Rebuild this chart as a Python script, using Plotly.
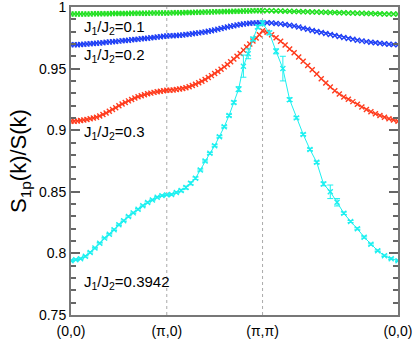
import numpy as np
import plotly.graph_objects as go

# k-path Gamma -> X -> M -> Gamma, distance in units of pi
corner_pos = [0, 1, 2, 2 + np.sqrt(2)]
corner_labels = ["(0,0)", "(\u03c0,0)", "(\u03c0,\u03c0)", "(0,0)"]

def path_x(n):
    # n points per segment of the L x L lattice path
    a = np.arange(0, n + 1) / n
    b = 1 + np.arange(1, n + 1) / n
    c = 2 + np.sqrt(2) * np.arange(1, n + 1) / n
    return np.concatenate([a, b, c])

# J1/J2 = 0.1
green_y = [
    0.9943, 0.9943, 0.9943, 0.9943, 0.9944, 0.9944, 0.9944, 0.9945, 0.9945, 0.9945,
    0.9946, 0.9946, 0.9946, 0.9947, 0.9947, 0.9947, 0.9948, 0.9948, 0.9948, 0.9949,
    0.9949, 0.9949, 0.9950, 0.9950, 0.9950, 0.9951, 0.9951, 0.9951, 0.9952, 0.9952, 0.9952,
    0.9952, 0.9953, 0.9953, 0.9954, 0.9954, 0.9955, 0.9955, 0.9956, 0.9957, 0.9957,
    0.9958, 0.9959, 0.9959, 0.9960, 0.9961, 0.9962, 0.9962, 0.9963, 0.9964, 0.9964,
    0.9965, 0.9966, 0.9966, 0.9967, 0.9968, 0.9968, 0.9969, 0.9969, 0.9970, 0.9970,
    0.9970, 0.9969, 0.9968, 0.9967, 0.9966, 0.9965, 0.9964, 0.9963, 0.9962, 0.9961,
    0.9960, 0.9959, 0.9958, 0.9957, 0.9956, 0.9955, 0.9954, 0.9953, 0.9952, 0.9951,
    0.9950, 0.9949, 0.9948, 0.9947, 0.9946, 0.9945, 0.9944, 0.9943, 0.9943, 0.9943,
]

# J1/J2 = 0.2
blue_y = [
    0.9693, 0.9693, 0.9694, 0.9695, 0.9697, 0.9699, 0.9701, 0.9703, 0.9705, 0.9708,
    0.9710, 0.9713, 0.9715, 0.9718, 0.9720, 0.9723, 0.9726, 0.9728, 0.9731, 0.9734,
    0.9736, 0.9739, 0.9742, 0.9744, 0.9747, 0.9750, 0.9753, 0.9756, 0.9759, 0.9762, 0.9765,
    0.9766, 0.9767, 0.9768, 0.9770, 0.9773, 0.9776, 0.9779, 0.9782, 0.9786, 0.9790,
    0.9794, 0.9798, 0.9803, 0.9808, 0.9813, 0.9819, 0.9825, 0.9831, 0.9837, 0.9843,
    0.9848, 0.9853, 0.9858, 0.9862, 0.9865, 0.9868, 0.9870, 0.9871, 0.9872, 0.9873,
    0.9872, 0.9870, 0.9867, 0.9863, 0.9858, 0.9852, 0.9845, 0.9837, 0.9828, 0.9819,
    0.9810, 0.9801, 0.9793, 0.9785, 0.9777, 0.9769, 0.9761, 0.9753, 0.9745, 0.9738,
    0.9731, 0.9725, 0.9719, 0.9714, 0.9709, 0.9705, 0.9701, 0.9698, 0.9695, 0.9693,
]

# J1/J2 = 0.3
red_y = [
    0.9072, 0.9073, 0.9075, 0.9078, 0.9082, 0.9087, 0.9093, 0.9099, 0.9106, 0.9115,
    0.9127, 0.9140, 0.9154, 0.9168, 0.9183, 0.9198, 0.9212, 0.9225, 0.9238, 0.9250,
    0.9261, 0.9271, 0.9280, 0.9288, 0.9295, 0.9301, 0.9307, 0.9312, 0.9316, 0.9320, 0.9324,
    0.9325, 0.9327, 0.9330, 0.9334, 0.9339, 0.9345, 0.9352, 0.9362, 0.9373, 0.9385,
    0.9398, 0.9412, 0.9427, 0.9443, 0.9460, 0.9477, 0.9495, 0.9514, 0.9534, 0.9555,
    0.9577, 0.9600, 0.9623, 0.9650, 0.9675, 0.9700, 0.9724, 0.9748, 0.9775, 0.9808,
    0.9795, 0.9775, 0.9750, 0.9722, 0.9692, 0.9660, 0.9628, 0.9595, 0.9560, 0.9525,
    0.9490, 0.9456, 0.9418, 0.9383, 0.9350, 0.9320, 0.9293, 0.9270, 0.9251, 0.9232,
    0.9210, 0.9188, 0.9168, 0.9150, 0.9134, 0.9119, 0.9105, 0.9093, 0.9082, 0.9072,
]

# J1/J2 = 0.3942 (with error bars)
cyan_y = [
    0.7941, 0.7949, 0.7957, 0.7976, 0.8008, 0.8043, 0.8083, 0.8124, 0.8156, 0.8192,
    0.8232, 0.8265, 0.8299, 0.8329, 0.8358, 0.8386, 0.8413, 0.8434, 0.8456, 0.8469, 0.8475,
    0.8478, 0.8494, 0.8510, 0.8534, 0.8569, 0.8610, 0.8677, 0.8750, 0.8812, 0.8874,
    0.8947, 0.9028, 0.9119, 0.9225, 0.9333, 0.9520, 0.9620, 0.9740, 0.9838, 0.9868,
    0.9790, 0.9640, 0.9500, 0.9248, 0.9100, 0.8966, 0.8844, 0.8739, 0.8564, 0.8500,
    0.8415, 0.8326, 0.8259, 0.8200, 0.8132, 0.8075, 0.8022, 0.7981, 0.7957, 0.7941,
]
cyan_err = [
    0.0006, 0.0006, 0.0006, 0.0006, 0.0006, 0.0006, 0.0006, 0.0006, 0.0006, 0.0006,
    0.0006, 0.0006, 0.0006, 0.0006, 0.0006, 0.0006, 0.0006, 0.0006, 0.0006, 0.0006, 0.0006,
    0.0006, 0.0006, 0.0010, 0.0012, 0.0012, 0.0010, 0.0008, 0.0008, 0.0008, 0.0008,
    0.0008, 0.0008, 0.0010, 0.0012, 0.0020, 0.0090, 0.0040, 0.0015, 0.0015, 0.0020,
    0.0015, 0.0020, 0.0100, 0.0015, 0.0010, 0.0010, 0.0010, 0.0010, 0.0015, 0.0055,
    0.0030, 0.0010, 0.0008, 0.0008, 0.0008, 0.0008, 0.0006, 0.0006, 0.0006, 0.0006,
]

labels = ["J<sub>1</sub>/J<sub>2</sub>=0.1", "J<sub>1</sub>/J<sub>2</sub>=0.2",
          "J<sub>1</sub>/J<sub>2</sub>=0.3", "J<sub>1</sub>/J<sub>2</sub>=0.3942"]
label_y = [0.9830, 0.9605, 0.8978, 0.7760]

fig = go.Figure()

series = [(green_y, "#22e022", 30), (blue_y, "#1f3ff5", 30), (red_y, "#ff3c1e", 30)]
for ys, col, n in series:
    fig.add_trace(go.Scatter(
        x=path_x(n), y=ys, mode="lines+markers",
        line=dict(color=col, width=1),
        marker=dict(symbol="x-thin", size=5, line=dict(color=col, width=1.4)),
        showlegend=False, hoverinfo="skip"))

fig.add_trace(go.Scatter(
    x=path_x(20), y=cyan_y, mode="lines+markers",
    line=dict(color="#1cf0f0", width=1),
    marker=dict(symbol="x-thin", size=5, line=dict(color="#1cf0f0", width=1.4)),
    error_y=dict(type="data", array=cyan_err, color="#1cf0f0", thickness=1, width=3),
    showlegend=False, hoverinfo="skip"))

# dotted guides at the corners of the path
for xv in corner_pos[1:3]:
    fig.add_shape(type="line", x0=xv, x1=xv, y0=0, y1=1, xref="x", yref="paper",
                  line=dict(color="#aaaaaa", width=1, dash="dot"), layer="below")

for txt, yv in zip(labels, label_y):
    fig.add_annotation(x=0.12, y=yv, text=txt, showarrow=False, xanchor="left",
                       font=dict(family="Liberation Sans", size=15, color="black"))

fig.update_layout(
    width=414, height=339,
    margin=dict(l=71, r=16, t=7, b=24),
    paper_bgcolor="white", plot_bgcolor="white",
    font=dict(family="Liberation Sans", size=14, color="black"),
    xaxis=dict(range=[0, corner_pos[-1]], tickvals=corner_pos, ticktext=corner_labels,
               showgrid=False, zeroline=False, showline=True, linecolor="#777777",
               linewidth=2, mirror=True, ticks="", tickfont=dict(size=14),
               automargin=False, ticklabelstandoff=2, ticklabeloverflow="allow"),
    yaxis=dict(range=[0.75, 1.0], tickvals=[0.75, 0.8, 0.85, 0.9, 0.95, 1.0],
               ticktext=["0.75", "0.8", "0.85", "0.9", "0.95", "1"],
               showgrid=False, zeroline=False, showline=True, linecolor="#777777",
               linewidth=2, mirror="ticks", ticks="inside", ticklen=9, tickwidth=2,
               tickcolor="#666666", tickfont=dict(size=14), automargin=False,
               ticklabeloverflow="allow",
               minor=dict(dtick=0.01, ticks="inside", ticklen=5, tickwidth=1.5,
                          tickcolor="#666666", showgrid=False),
               title=dict(text="S<sub>1p</sub>(k)/S(k)", font=dict(size=22), standoff=6)),
)

# drop the browser's default page margin so the figure sits at the top-left corner
fig.write_html("out.html", config={"displayModeBar": False},
               post_script="document.body.style.margin='0';")
